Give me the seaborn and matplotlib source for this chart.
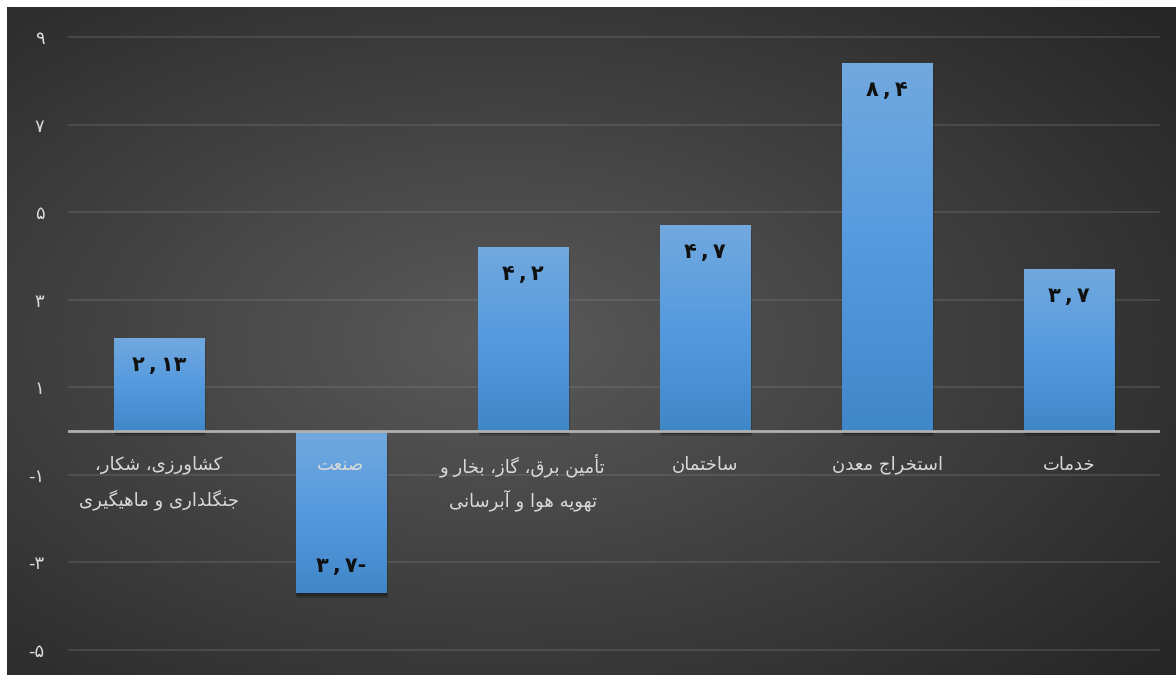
import matplotlib
matplotlib.use("Agg")
import matplotlib.pyplot as plt
import matplotlib.patheffects as pe
from matplotlib.colors import LinearSegmentedColormap
import numpy as np
import pandas as pd
import seaborn as sns

# data
categories = [
    ["کشاورزی، شکار،", "جنگلداری و ماهیگیری"],
    ["صنعت"],
    ["تأمین برق، گاز، بخار و", "تهویه هوا و آبرسانی"],
    ["ساختمان"],
    ["استخراج معدن"],
    ["خدمات"],
]
values = [2.13, -3.7, 4.2, 4.7, 8.4, 3.7]
value_texts = ["2,13", "3,7", "4,2", "4,7", "8,4", "3,7"]
y_ticks = [-5, -3, -1, 1, 3, 5, 7, 9]

# --- tiny arabic/persian shaper (matplotlib has no complex text layout) ---
# dual-joining: isolated, final, initial, medial ; right-joining: isolated, final
FORMS = {
    "ا": ("\uFE8D", "\uFE8E"), "أ": ("\uFE83", "\uFE84"), "آ": ("\uFE81", "\uFE82"),
    "د": ("\uFEA9", "\uFEAA"), "ر": ("\uFEAD", "\uFEAE"), "ز": ("\uFEAF", "\uFEB0"),
    "و": ("\uFEED", "\uFEEE"),
    "ب": ("\uFE8F", "\uFE90", "\uFE91", "\uFE92"), "ت": ("\uFE95", "\uFE96", "\uFE97", "\uFE98"),
    "ج": ("\uFE9D", "\uFE9E", "\uFE9F", "\uFEA0"), "خ": ("\uFEA5", "\uFEA6", "\uFEA7", "\uFEA8"),
    "س": ("\uFEB1", "\uFEB2", "\uFEB3", "\uFEB4"), "ش": ("\uFEB5", "\uFEB6", "\uFEB7", "\uFEB8"),
    "ص": ("\uFEB9", "\uFEBA", "\uFEBB", "\uFEBC"), "ع": ("\uFEC9", "\uFECA", "\uFECB", "\uFECC"),
    "ق": ("\uFED5", "\uFED6", "\uFED7", "\uFED8"), "ل": ("\uFEDD", "\uFEDE", "\uFEDF", "\uFEE0"),
    "م": ("\uFEE1", "\uFEE2", "\uFEE3", "\uFEE4"), "ن": ("\uFEE5", "\uFEE6", "\uFEE7", "\uFEE8"),
    "ه": ("\uFEE9", "\uFEEA", "\uFEEB", "\uFEEC"), "ک": ("\uFB8E", "\uFB8F", "\uFB90", "\uFB91"),
    "گ": ("\uFB92", "\uFB93", "\uFB94", "\uFB95"), "ی": ("\uFBFC", "\uFBFD", "\uFBFE", "\uFBFF"),
}


def shape(text):
    out = []
    for i, ch in enumerate(text):
        if ch not in FORMS:
            out.append(ch)
            continue
        prev = text[i - 1] if i > 0 else ""
        nxt = text[i + 1] if i + 1 < len(text) else ""
        f = FORMS[ch]
        join_prev = prev in FORMS and len(FORMS[prev]) == 4
        join_next = len(f) == 4 and nxt in FORMS
        if join_prev and join_next:
            out.append(f[3])
        elif join_prev:
            out.append(f[1])
        elif join_next:
            out.append(f[2])
        else:
            out.append(f[0])
    return "".join(reversed(out))


fa_digits = str.maketrans("0123456789", "۰۱۲۳۴۵۶۷۸۹")

sns.set_theme(style="dark")
plt.rcParams["font.family"] = ["DejaVu Sans"]

W, H = 1176, 675
fig = plt.figure(figsize=(W / 100, H / 100), dpi=100, facecolor="white")

# radial dark background
bg = fig.add_axes([7 / W, 0, 1 - 7 / W, 668 / H])
gx, gy = np.meshgrid(np.linspace(0, 1, 400), np.linspace(0, 1, 240))
r = np.sqrt(((gx - 0.42) / 0.75) ** 2 + ((gy - 0.5) / 0.75) ** 2)
bg_cmap = LinearSegmentedColormap.from_list("bg", ["#5a5a5a", "#404040", "#262626"])
bg.imshow(np.clip(r, 0, 1), cmap=bg_cmap, vmin=0, vmax=1, aspect="auto")
bg.axis("off")

ax = fig.add_axes([68 / W, 0, (1160 - 68) / W, 668 / H])
ax.set_facecolor("none")

df = pd.DataFrame({"cat": [str(i) for i in range(len(values))], "val": values})
sns.barplot(data=df, x="cat", y="val", color="#5b9bd5", width=0.5, ax=ax,
            saturation=1, linewidth=0, edgecolor="none", zorder=3)

bar_cmap = LinearSegmentedColormap.from_list("bar", ["#4087c8", "#559ade", "#72a9df"])
grad = np.linspace(0, 1, 256).reshape(-1, 1)
for p in ax.patches:
    p.set_path_effects([
        pe.SimplePatchShadow(offset=(1, -4), shadow_rgbFace="black", alpha=0.18),
        pe.SimplePatchShadow(offset=(0, -2), shadow_rgbFace="black", alpha=0.25),
        pe.Normal(),
    ])
    x0, y0 = p.get_x(), p.get_y()
    w, h = p.get_width(), p.get_height()
    lo, hi = min(y0, y0 + h), max(y0, y0 + h)
    im = ax.imshow(grad, extent=[x0, x0 + w, lo, hi], origin="lower", aspect="auto",
                   cmap=bar_cmap, zorder=3.5)
    im.set_clip_path(p)

ax.set_xlim(-0.5, 5.5)
ax.set_ylim(-5.577, 9.686)
ax.set_yticks(y_ticks)
ax.set_yticklabels([("-" if t < 0 else "") + str(abs(t)).translate(fa_digits) for t in y_ticks],
                   color="#d9d9d9", fontsize=13)
ax.tick_params(axis="y", length=0, pad=17)
ax.set_xticks([])
ax.set_xlabel("")
ax.set_ylabel("")
for s in ax.spines.values():
    s.set_visible(False)
ax.grid(axis="y", color="#8a8a8a", alpha=0.3, lw=1.2, zorder=1)
ax.axhline(0, color="#b0b0b0", lw=2, zorder=4)

# value labels
for i, (v, t) in enumerate(zip(values, value_texts)):
    txt = t.translate(fa_digits).replace(",", "\u2009,\u2009")
    if v < 0:
        txt = txt + "-"
        y = v + 0.62
    else:
        y = v - 0.62
    ax.text(i, y, txt, ha="center", va="center", fontsize=15, fontweight="bold",
            color="#111111", zorder=6)

# category labels next to the zero line
for i, lines in enumerate(categories):
    for k, line in enumerate(lines):
        ax.text(i, -0.78 - 0.8 * k, shape(line), ha="center", va="center",
                fontsize=13, color="#d9d9d9", zorder=6)

fig.savefig("out.png", dpi=100, facecolor=fig.get_facecolor())
